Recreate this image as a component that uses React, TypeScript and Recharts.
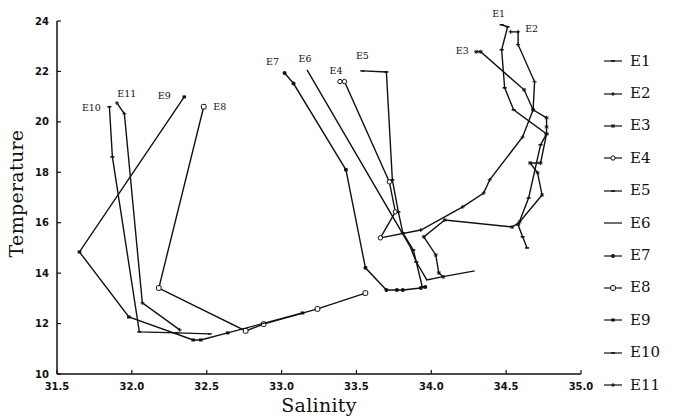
import React from 'react';
import { ScatterChart, Scatter, XAxis, YAxis } from 'recharts';

// Salinity / Temperature pairs
const E1: number[][] = [[34.47, 23.85], [34.51, 23.77], [34.47, 22.86], [34.49, 21.35], [34.55, 20.48], [34.77, 19.52], [34.73, 19.09], [34.65, 16.98], [34.58, 15.91], [34.61, 15.44], [34.64, 15.0]];
const E2: number[][] = [[34.53, 23.57], [34.58, 23.57], [34.58, 23.06], [34.69, 21.59], [34.68, 20.48], [34.61, 19.4], [34.39, 17.7], [34.35, 17.18], [34.21, 16.63], [33.93, 15.71], [33.66, 15.4]];
const E3: number[][] = [[34.3, 22.78], [34.33, 22.78], [34.62, 21.27], [34.68, 20.48], [34.77, 20.16], [34.77, 19.8], [34.77, 19.52], [34.73, 18.37], [34.66, 18.37], [34.71, 17.98], [34.74, 17.1], [34.59, 16.03], [34.54, 15.83], [34.09, 16.11], [33.95, 15.44], [34.03, 14.72], [34.05, 14.01], [34.08, 13.85]];
const E4: number[][] = [[33.39, 21.6], [33.42, 21.6], [33.72, 17.62], [33.76, 16.43], [33.66, 15.4]];
const E5: number[][] = [[33.54, 22.02], [33.7, 21.98], [33.74, 17.7], [33.78, 16.43], [33.81, 15.6], [33.88, 14.92], [33.9, 14.44], [33.94, 13.45]];
const E6: number[][] = [[33.17, 22.06], [33.86, 15.04], [33.9, 14.44], [33.97, 13.73], [34.07, 13.85], [34.29, 14.09]];
const E7: number[][] = [[33.02, 21.94], [33.08, 21.52], [33.43, 18.1], [33.56, 14.21], [33.7, 13.33], [33.77, 13.33], [33.81, 13.33], [33.93, 13.41], [33.96, 13.45]];
const E8: number[][] = [[32.48, 20.6], [32.18, 13.41], [32.76, 11.71], [32.88, 11.98], [33.24, 12.58], [33.56, 13.21]];
const E9: number[][] = [[32.35, 20.99], [31.65, 14.84], [31.98, 12.26], [32.41, 11.35], [32.46, 11.35], [32.64, 11.63], [33.14, 12.42]];
const E10: number[][] = [[31.85, 20.6], [31.87, 18.61], [32.05, 11.67], [32.3, 11.63], [32.52, 11.59]];
const E11: number[][] = [[31.9, 20.75], [31.95, 20.32], [32.07, 12.82], [32.32, 11.75]];

const seriesNames = ['E1', 'E2', 'E3', 'E4', 'E5', 'E6', 'E7', 'E8', 'E9', 'E10', 'E11'];
const seriesData = [E1, E2, E3, E4, E5, E6, E7, E8, E9, E10, E11];

const xTicks = [31.5, 32.0, 32.5, 33.0, 33.5, 34.0, 34.5, 35.0];
const yTicks = [10, 12, 14, 16, 18, 20, 22, 24];

type MarkerKind = 'dash' | 'plus' | 'star' | 'circle' | 'none' | 'dot' | 'square' | 'fillsq';

// style only: marker kind and label offset (pixels) from the first point
const seriesStyle: { marker: MarkerKind; dx: number; dy: number }[] = [
  { marker: 'dash', dx: -3, dy: -10 },
  { marker: 'plus', dx: 21, dy: -2 },
  { marker: 'star', dx: -14, dy: 0 },
  { marker: 'circle', dx: -4, dy: -10 },
  { marker: 'dash', dx: 0, dy: -14 },
  { marker: 'none', dx: -2, dy: -10 },
  { marker: 'dot', dx: -12, dy: -10 },
  { marker: 'square', dx: 16, dy: 1 },
  { marker: 'fillsq', dx: -20, dy: 0 },
  { marker: 'dash', dx: -18, dy: 2 },
  { marker: 'plus', dx: 10, dy: -8 },
];

const INK = '#111';
const SERIF = "'DejaVu Serif', 'Liberation Serif', serif";

function Marker({ kind, x, y }: { kind: MarkerKind; x: number; y: number }) {
  switch (kind) {
    case 'dash':
      return <line x1={x - 2} x2={x + 2} y1={y} y2={y} stroke={INK} strokeWidth={1.6} />;
    case 'plus':
      return <path d={`M${x - 2},${y}H${x + 2}M${x},${y - 2}V${y + 2}`} stroke={INK} strokeWidth={1} />;
    case 'star':
      return <path d={`M${x - 2},${y}H${x + 2}M${x},${y - 2}V${y + 2}M${x - 1.5},${y - 1.5}L${x + 1.5},${y + 1.5}M${x - 1.5},${y + 1.5}L${x + 1.5},${y - 1.5}`} stroke={INK} strokeWidth={0.9} />;
    case 'circle':
      return <circle cx={x} cy={y} r={2.2} fill="#fff" stroke={INK} strokeWidth={1} />;
    case 'square':
      return <rect x={x - 2.3} y={y - 2.3} width={4.6} height={4.6} rx={1} fill="#fff" stroke={INK} strokeWidth={1} />;
    case 'dot':
      return <circle cx={x} cy={y} r={2} fill={INK} />;
    case 'fillsq':
      return <rect x={x - 1.8} y={y - 1.5} width={3.6} height={3} fill={INK} />;
    default:
      return null;
  }
}

const makeShape = (name: string, kind: MarkerKind, dx: number, dy: number) => (props: any) => {
  const { cx, cy, payload } = props;
  if (cx == null || cy == null) return <g />;
  return (
    <g>
      <Marker kind={kind} x={cx} y={cy} />
      {payload && payload.first ? (
        <text x={cx + dx} y={cy + dy} textAnchor="middle" dominantBaseline="middle" fontFamily={SERIF} fontSize={9.5} fill={INK}>
          {name}
        </text>
      ) : null}
    </g>
  );
};

const tables = seriesData.map((arr) => arr.map(([s, t], i) => ({ s, t, first: i === 0 })));

const tickStyle = { fill: INK, fontSize: 10, fontWeight: 'bold' as const, fontFamily: "'DejaVu Sans', sans-serif" };

export default function App() {
  return (
    <div style={{ position: 'relative', width: 677, height: 418, background: '#fff' }}>
      <style>{'body{margin:0;background:#fff}'}</style>
      <ScatterChart width={677} height={418} margin={{ top: 21, right: 96, bottom: 0, left: 0 }}>
        <XAxis
          type="number"
          dataKey="s"
          domain={[31.5, 35]}
          ticks={xTicks}
          tickFormatter={(v: number) => v.toFixed(1)}
          height={44}
          tickSize={-4}
          tickMargin={13}
          axisLine={{ stroke: INK, strokeWidth: 1.5 }}
          tickLine={{ stroke: INK, strokeWidth: 1.2 }}
          tick={tickStyle}
          label={{ value: 'Salinity', position: 'insideBottom', offset: 6, style: { fontFamily: SERIF, fontSize: 19, fill: INK, letterSpacing: 0.3 } }}
        />
        <YAxis
          type="number"
          dataKey="t"
          domain={[10, 24]}
          ticks={yTicks}
          width={57}
          tickSize={-4}
          tickMargin={12}
          axisLine={{ stroke: INK, strokeWidth: 1.5 }}
          tickLine={{ stroke: INK, strokeWidth: 1.2 }}
          tick={tickStyle}
          label={{
            content: (p: any) => {
              const vb = p.viewBox || { x: 0, y: 21, width: 57, height: 353 };
              const cx = vb.x + 18;
              const cy = vb.y + vb.height / 2 - 4;
              return (
                <text x={cx} y={cy} transform={`rotate(-90, ${cx}, ${cy})`} textAnchor="middle" dominantBaseline="middle" fontFamily={SERIF} fontSize={19} fill={INK} letterSpacing={0.3}>
                  Temperature
                </text>
              );
            },
          }}
        />
        {tables.map((tbl, i) => (
          <Scatter
            key={seriesNames[i]}
            name={seriesNames[i]}
            data={tbl}
            fill={INK}
            line={{ stroke: INK, strokeWidth: 1.4 }}
            lineType="joint"
            shape={makeShape(seriesNames[i], seriesStyle[i].marker, seriesStyle[i].dx, seriesStyle[i].dy)}
            isAnimationActive={false}
          />
        ))}
      </ScatterChart>
      <div style={{ position: 'absolute', left: 603, top: 45, fontFamily: SERIF, fontSize: 15, color: INK }}>
        {seriesNames.map((n, i) => (
          <div key={n} style={{ height: 32.4, display: 'flex', alignItems: 'center' }}>
            <svg width={20} height={12} style={{ display: 'block' }}>
              <line x1={1} x2={19} y1={6} y2={6} stroke={INK} strokeWidth={1.2} />
              <Marker kind={seriesStyle[i].marker} x={10} y={6} />
            </svg>
            <span style={{ marginLeft: 7, lineHeight: '15px' }}>{n}</span>
          </div>
        ))}
      </div>
    </div>
  );
}
